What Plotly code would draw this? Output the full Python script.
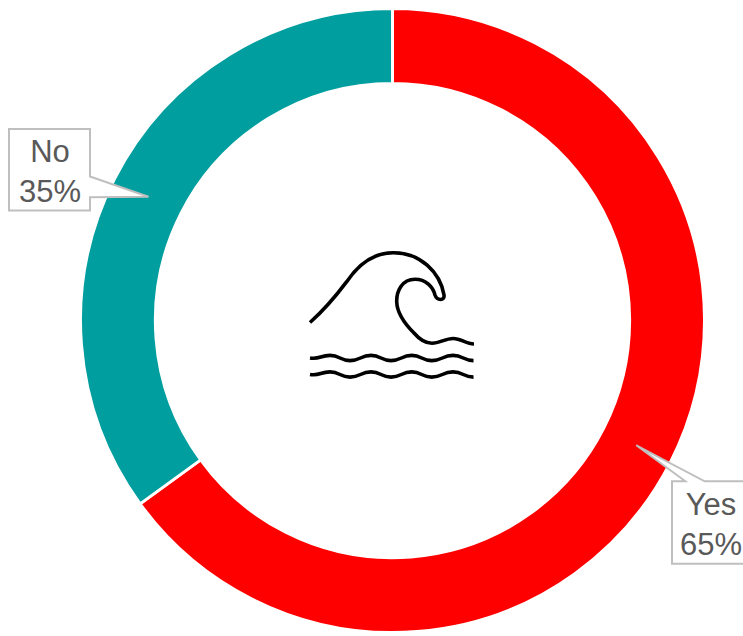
import plotly.graph_objects as go

W, H = 743, 636
categories = ["Yes", "No"]
values = [65, 35]
colors = ["#FF0000", "#009E9E"]
labels_text = ["Yes<br>65%", "No<br>35%"]


def px(x):
    return x / W


def py(y):
    return 1 - y / H


def path(d):
    out = []
    for tok in d:
        if isinstance(tok, str):
            out.append(tok)
        else:
            out.append(f"{px(tok[0]):.5f},{py(tok[1]):.5f}")
    return " ".join(out)


def poly(points):
    return path(["M", points[0]] + [t for p in points[1:] for t in ("L", p)] + ["Z"])


fig = go.Figure(go.Pie(
    labels=categories,
    values=values,
    hole=0.76,
    sort=False,
    direction="clockwise",
    rotation=0,
    textinfo="none",
    marker=dict(colors=colors, line=dict(color="#FFFFFF", width=3)),
    domain=dict(x=[px(80.5), px(704.5)], y=[py(632.5), py(8.5)]),
    showlegend=False,
))

callout_no = [(9, 129), (90, 129), (90, 176.5), (148.5, 196.7), (90, 197.3), (90, 210.5), (9, 210.5)]
callout_yes = [(672, 481.3), (685.3, 481.3), (636.3, 445.3), (704.7, 481.3), (760, 481.3), (760, 563.7), (672, 563.7)]

wave_main = ["M", (310, 322.5),
             "C", (323, 311), (336, 296), (346.7, 281.7),
             "C", (358, 265), (373, 252.7), (393.3, 252.7),
             "C", (420, 252.7), (440, 272), (444, 295),
             "C", (445, 301), (437, 301), (435, 295),
             "C", (433, 287), (426, 279.3), (415, 279.3),
             "C", (402, 279.3), (396.5, 291), (396.7, 301.7),
             "C", (397, 313), (405, 324), (414, 333),
             "C", (420, 340), (426, 343.3), (432, 343.3),
             "C", (440, 343.3), (445, 338.5), (453.3, 338.5),
             "C", (461, 338.5), (466, 344), (474, 344)]


def ripple(y):
    a = 2.6
    d = ["M", (310, y)]
    xs = [330, 350, 371, 391, 411.7, 431.7, 453, 473.5]
    prev_x = 310
    for i, x in enumerate(xs):
        yy = y - a if i % 2 == 0 else y + a
        py0 = y + a if i % 2 == 0 else y - a
        if i == 0:
            py0 = y + a * 0.6
        mid = (x - prev_x) / 2
        d += ["C", (prev_x + mid, py0), (x - mid, yy), (x, yy)]
        prev_x = x
    return d


icon_line = dict(color="#000000", width=3.6)
callout_line = dict(color="#BFBFBF", width=2)
shapes = [
    dict(type="path", xref="paper", yref="paper", path=poly(callout_no), fillcolor="#FFFFFF", line=callout_line),
    dict(type="path", xref="paper", yref="paper", path=poly(callout_yes), fillcolor="#FFFFFF", line=callout_line),
    dict(type="path", xref="paper", yref="paper", path=path(wave_main), line=icon_line),
    dict(type="path", xref="paper", yref="paper", path=path(ripple(358)), line=icon_line),
    dict(type="path", xref="paper", yref="paper", path=path(ripple(374.5)), line=icon_line),
]

annotations = [
    dict(text=labels_text[1], x=px(49.5), y=py(171), xref="paper", yref="paper",
         xanchor="center", yanchor="middle", showarrow=False, align="center",
         font=dict(family="Liberation Sans", size=31, color="#595959")),
    dict(text=labels_text[0], x=px(711), y=py(524), xref="paper", yref="paper",
         xanchor="center", yanchor="middle", showarrow=False, align="center",
         font=dict(family="Liberation Sans", size=31, color="#595959")),
]

fig.update_layout(
    width=W, height=H,
    margin=dict(l=0, r=0, t=0, b=0),
    paper_bgcolor="#FFFFFF",
    plot_bgcolor="#FFFFFF",
    shapes=shapes,
    annotations=annotations,
)
fig.write_html("out.html", config={"displayModeBar": False},
               post_script="document.body.style.margin='0';document.documentElement.style.overflow='hidden';")
